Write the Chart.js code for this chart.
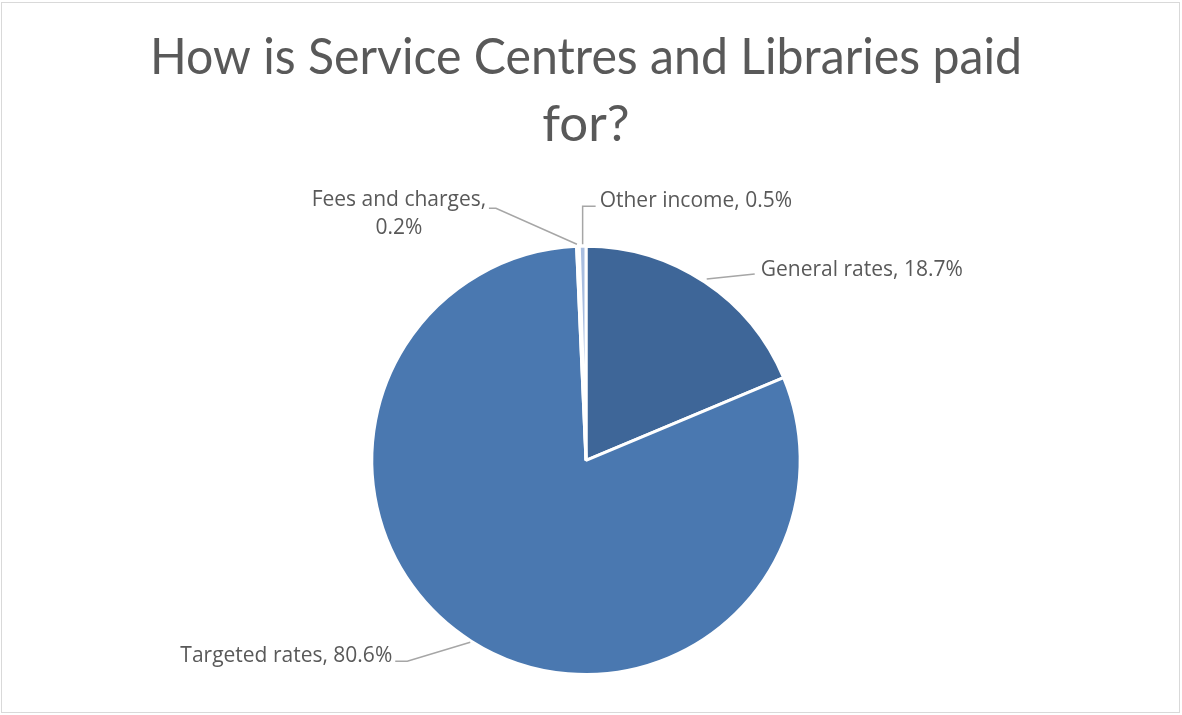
<!DOCTYPE html>
<html>
<head>
<meta charset="utf-8">
<title>Service Centres and Libraries funding</title>
<script src="https://cdn.jsdelivr.net/npm/chart.js@4/dist/chart.umd.min.js"></script>
<style>
  html, body { margin: 0; padding: 0; background: #fff; }
  #wrap { width: 1182px; height: 715px; position: relative; }
</style>
</head>
<body>
<div id="wrap"><canvas id="myChart" width="1182" height="715"></canvas></div>
<script>
// Funding sources, percent of total
let sourceLabels = ['General rates', 'Targeted rates', 'Fees and charges', 'Other income'];
let sourceValues = [18.7, 80.6, 0.2, 0.5];
let sliceColors = ['#3e6698', '#4a78b0', '#dde5f1', '#a9bee0'];
let chartTitle = ['How is Service Centres and Libraries paid', 'for?'];

const labelFont = '21px "Open Sans", Lato, sans-serif';

// Light frame round the whole chart
const framePlugin = {
  id: 'frame',
  beforeDraw: function(chart) {
    let ctx = chart.ctx;
    ctx.save();
    ctx.fillStyle = '#fff';
    ctx.fillRect(0, 0, chart.width, chart.height);
    ctx.strokeStyle = '#d9d9d9';
    ctx.lineWidth = 1;
    ctx.strokeRect(1.5, 2.5, chart.width - 4, chart.height - 5);
    ctx.restore();
  }
};

// Data labels with leader lines, anchored at each slice's outer mid point
const leaderLabels = {
  id: 'leaderLabels',
  afterDatasetsDraw: function(chart) {
    let ctx = chart.ctx;
    let meta = chart.getDatasetMeta(0);
    ctx.save();
    ctx.font = labelFont;
    ctx.fillStyle = '#595959';
    ctx.strokeStyle = '#a6a6a6';
    ctx.lineWidth = 1.5;
    ctx.textBaseline = 'middle';

    meta.data.forEach(function(arc, i) {
      let p = arc.getProps(['x', 'y', 'startAngle', 'endAngle', 'outerRadius'], true);
      let mid = (p.startAngle + p.endAngle) / 2;
      let ax = p.x + Math.cos(mid) * p.outerRadius;
      let ay = p.y + Math.sin(mid) * p.outerRadius;
      let text = sourceLabels[i] + ', ' + sourceValues[i].toFixed(1) + '%';

      ctx.beginPath();
      if (i === 0) {
        // right hand label
        ctx.moveTo(ax + 2, ay - 3);
        ctx.lineTo(ax + 50, ay - 8);
        ctx.stroke();
        ctx.textAlign = 'left';
        ctx.fillText(text, ax + 56, ay - 12);
      } else if (i === 1) {
        // lower left label
        ctx.moveTo(ax - 1, ay + 1);
        ctx.lineTo(ax - 64, ay + 20);
        ctx.lineTo(ax - 76, ay + 20);
        ctx.stroke();
        ctx.textAlign = 'right';
        ctx.fillText(text, ax - 79, ay + 15);
      } else if (i === 2) {
        // two line label above left
        ctx.moveTo(ax - 1, ay - 2);
        ctx.lineTo(ax - 82, ay - 38);
        ctx.lineTo(ax - 89, ay - 38);
        ctx.stroke();
        ctx.textAlign = 'center';
        ctx.fillText(sourceLabels[i] + ',', ax - 179, ay - 46);
        ctx.fillText(sourceValues[i].toFixed(1) + '%', ax - 179, ay - 18);
      } else {
        // label straight above, to the right
        ctx.moveTo(ax, ay - 2);
        ctx.lineTo(ax, ay - 40);
        ctx.lineTo(ax + 13, ay - 40);
        ctx.stroke();
        ctx.textAlign = 'left';
        ctx.fillText(text, ax + 17, ay - 45);
      }
    });
    ctx.restore();
  }
};

let ctx = document.getElementById('myChart');
let myChart = new Chart(ctx, {
  type: 'pie',
  data: {
    labels: sourceLabels,
    datasets: [{
      data: sourceValues,
      backgroundColor: sliceColors,
      borderColor: '#ffffff',
      borderWidth: 3
    }]
  },
  options: {
    responsive: false,
    animation: false,
    layout: { padding: { top: 0, bottom: 39, left: 150, right: 160 } },
    plugins: {
      legend: { display: false },
      tooltip: { enabled: false },
      title: {
        display: true,
        text: chartTitle,
        color: '#595959',
        font: { family: 'Lato, "Open Sans", sans-serif', size: 51, weight: 'normal', lineHeight: 1.32 },
        padding: { top: 24, bottom: 86 }
      }
    }
  },
  plugins: [framePlugin, leaderLabels]
});
</script>
</body>
</html>
